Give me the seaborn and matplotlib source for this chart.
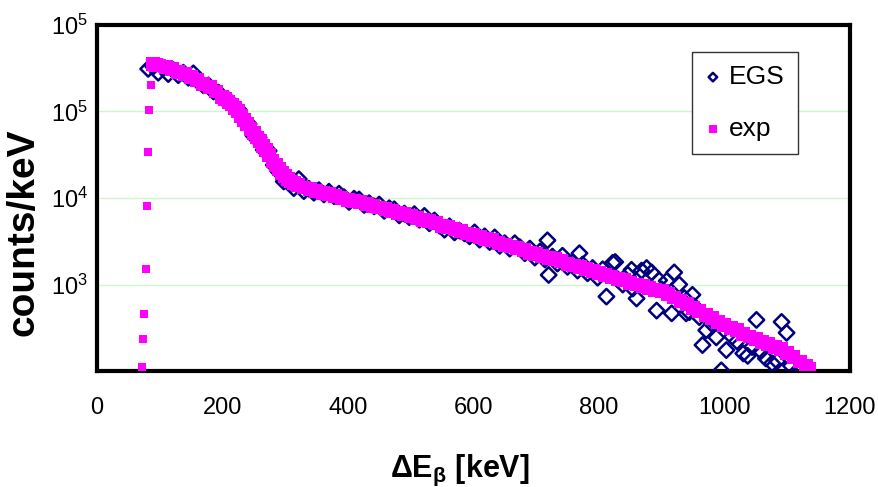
import numpy as np
import pandas as pd
import seaborn as sns
import matplotlib.pyplot as plt

################################################################################
# data

# exp (measured spectrum), counts/keV
exp_kev = [72, 74, 76, 78, 80, 82, 84, 86, 88,
           90, 95, 100, 110, 120, 130, 140, 150, 160, 170, 180, 190,
           200, 205, 210, 215, 220, 225, 230, 235, 240, 245, 250, 255, 260, 265,
           270, 275, 280, 285, 290, 295, 300, 305, 310, 315, 320,
           330, 340, 350, 360, 370, 380, 390, 400, 410, 420, 430, 440, 450,
           460, 470, 480, 490, 500, 510, 520, 530, 540, 550, 560, 570, 580,
           590, 600, 610, 620, 630, 640, 650, 660, 670, 680, 690, 700, 710,
           720, 730, 740, 750, 760, 770, 780, 790, 800, 810, 820, 830, 840,
           850, 860, 870, 880, 890, 900, 910, 920, 930, 940, 950, 960, 970,
           980, 990, 1000, 1010, 1020, 1030, 1040, 1050, 1060, 1070, 1080,
           1090, 1100, 1110, 1120, 1130, 1135]
exp_counts = [112, 235, 457, 1500, 8100, 34000, 104000, 203000, 340000,
              355000, 347000, 339000, 324000, 309000, 288000, 269000, 251000, 229000, 209000, 191000, 170000,
              148000, 138000, 129000, 120000, 110000, 100000, 89000, 79000, 71000, 63000, 56000, 50000, 45000, 40000,
              35500, 31000, 27000, 24000, 21400, 19500, 17800, 16600, 15500, 14800, 14100,
              13200, 12600, 12000, 11500, 11000, 10500, 10000, 9550, 9330, 8910, 8510, 8130, 7760,
              7410, 7080, 6760, 6460, 6170, 5890, 5620, 5370, 5130, 4790, 4570, 4370, 4170,
              3890, 3720, 3550, 3390, 3240, 3020, 2880, 2750, 2630, 2510, 2340, 2240, 2140,
              2040, 1950, 1860, 1740, 1660, 1580, 1510, 1450, 1350, 1290, 1230, 1170, 1120,
              1050, 1000, 955, 912, 871, 832, 776, 708, 646, 589, 537, 490, 447,
              407, 372, 339, 316, 295, 269, 251, 234, 219, 204, 191,
              178, 162, 145, 129, 115, 107]

# EGS (simulation), counts/keV
egs_kev = [82, 90, 98, 106, 114, 122, 130, 138, 146, 154, 162, 170, 178, 186, 194,
           202, 210, 218, 226, 234, 242, 250, 258, 266, 274, 282, 290, 298,
           306, 314, 322, 330, 338, 346, 354, 362, 370, 378, 386, 394,
           402, 410, 418, 426, 434, 442, 450, 458, 466, 474, 482, 490, 498,
           506, 514, 522, 530, 538, 546, 554, 562, 570, 578, 586, 594,
           602, 610, 618, 626, 634, 642, 650, 658, 666, 674, 682, 690, 698,
           706, 714, 718, 720, 726, 734, 742, 750, 758, 766, 769, 774, 782, 790, 798,
           806, 812, 822, 826, 830, 838, 846, 852, 854, 860, 868, 876, 884, 892,
           896, 900, 908, 916, 920, 928, 936, 939, 944, 949, 952, 960, 965, 971, 980,
           987, 995, 1003, 1012, 1020, 1030, 1037, 1044, 1051, 1058, 1066,
           1076, 1084, 1091, 1099, 1106, 1116, 1122]
egs_counts = [310000, 330000, 280000, 320000, 270000, 300000, 262000, 280000, 245000, 275000, 220000, 200000, 200000, 170000, 165000,
              140000, 135000, 112000, 105000, 80000, 72000, 52000, 50000, 36000, 35000, 24000, 20000, 15500,
              15000, 13000, 16500, 12000, 12800, 11500, 12300, 11000, 11800, 10500, 11200, 10200,
              9000, 9800, 9600, 8300, 8700, 8000, 8400, 7100, 7600, 7400, 6300, 6600, 6000,
              6500, 5600, 6200, 5100, 5500, 4800, 4300, 4700, 4000, 4200, 3900, 3600,
              4000, 3300, 3600, 3100, 3500, 2800, 3000, 2600, 3000, 2700, 2300, 2600, 2050,
              2400, 1950, 3240, 1290, 2100, 1750, 2150, 1600, 1800, 1450, 2300, 1700, 1350, 1550, 1200,
              1500, 725, 1780, 1820, 1150, 1000, 1300, 1480, 900, 690, 1450, 1550, 1380, 500,
              1120, 880, 1100, 465, 1380, 1000, 700, 465, 480, 760, 560, 420, 200, 296, 350,
              245, 102, 175, 250, 220, 160, 150, 190, 390, 170, 140,
              123, 130, 370, 277, 115, 100, 108]

xtick_vals = [0, 200, 400, 600, 800, 1000, 1200]
ytick_vals = [1e2, 1e3, 1e4, 1e5, 1e6]
ytick_labels = ['', '$10^3$', '$10^4$', '$10^5$', '$10^5$']

################################################################################
# plot

df_exp = pd.DataFrame({'E': exp_kev, 'counts': exp_counts})
df_egs = pd.DataFrame({'E': egs_kev, 'counts': egs_counts})
n_rise = 9  # threshold points, drawn a bit smaller

sns.set_style('white')
plt.rcParams['font.family'] = ['Liberation Sans', 'DejaVu Sans']
plt.rcParams['mathtext.fontset'] = 'custom'
plt.rcParams['mathtext.rm'] = 'Liberation Sans'
plt.rcParams['mathtext.it'] = 'Liberation Sans:italic'
plt.rcParams['mathtext.bf'] = 'Liberation Sans:bold'
plt.rcParams['text.color'] = 'black'
plt.rcParams['axes.labelcolor'] = 'black'
plt.rcParams['xtick.color'] = 'black'
plt.rcParams['ytick.color'] = 'black'

fig = plt.figure(figsize=(8.79, 4.87), dpi=100)
ax = fig.add_axes([0.110, 0.238, 0.857, 0.711])

sns.scatterplot(data=df_egs, x='E', y='counts', marker='D', s=62,
                facecolor='none', edgecolor='#000080', linewidth=1.8,
                label='EGS', ax=ax, zorder=3)
sns.scatterplot(data=df_exp.iloc[n_rise:], x='E', y='counts', marker='s', s=100,
                color='#ff00ff', edgecolor='none', linewidth=0,
                label='exp', ax=ax, zorder=4)
sns.scatterplot(data=df_exp.iloc[:n_rise], x='E', y='counts', marker='s', s=34,
                color='#ff00ff', edgecolor='none', linewidth=0,
                ax=ax, zorder=4)

ax.set_yscale('log')
ax.set_xlim(0, 1200)
ax.set_ylim(1e2, 1e6)
ax.set_xticks(xtick_vals)
ax.set_xticklabels([str(v) for v in xtick_vals])
ax.set_yticks(ytick_vals)
ax.set_yticklabels(ytick_labels)
ax.minorticks_off()
ax.tick_params(axis='both', labelsize=17, direction='out', length=5, width=1, pad=1)
ax.tick_params(axis='x', pad=14)

ax.grid(axis='y', color='#ccf5cc', linewidth=1)
ax.grid(axis='x', visible=False)
for sp in ax.spines.values():
    sp.set_visible(True)
    sp.set_color('black')
    sp.set_linewidth(3)

ax.set_xlabel(r'ΔE$_{\mathbf{β}}$ [keV]', fontsize=22, fontweight='bold')
ax.xaxis.set_label_coords(0.482, -0.237)
ax.set_ylabel('counts/keV', fontsize=28, fontweight='bold')
ax.yaxis.set_label_coords(-0.073, 0.40)

leg = ax.legend(loc='upper left', bbox_to_anchor=(0.790, 0.922), borderaxespad=0,
                fontsize=19, frameon=True, fancybox=False, framealpha=1, edgecolor='#333333',
                handletextpad=0.3, handlelength=0.6, borderpad=0.5, labelspacing=1.05,
                markerscale=0.55)
leg.get_frame().set_linewidth(1)

fig.savefig('out.png', dpi=100)
